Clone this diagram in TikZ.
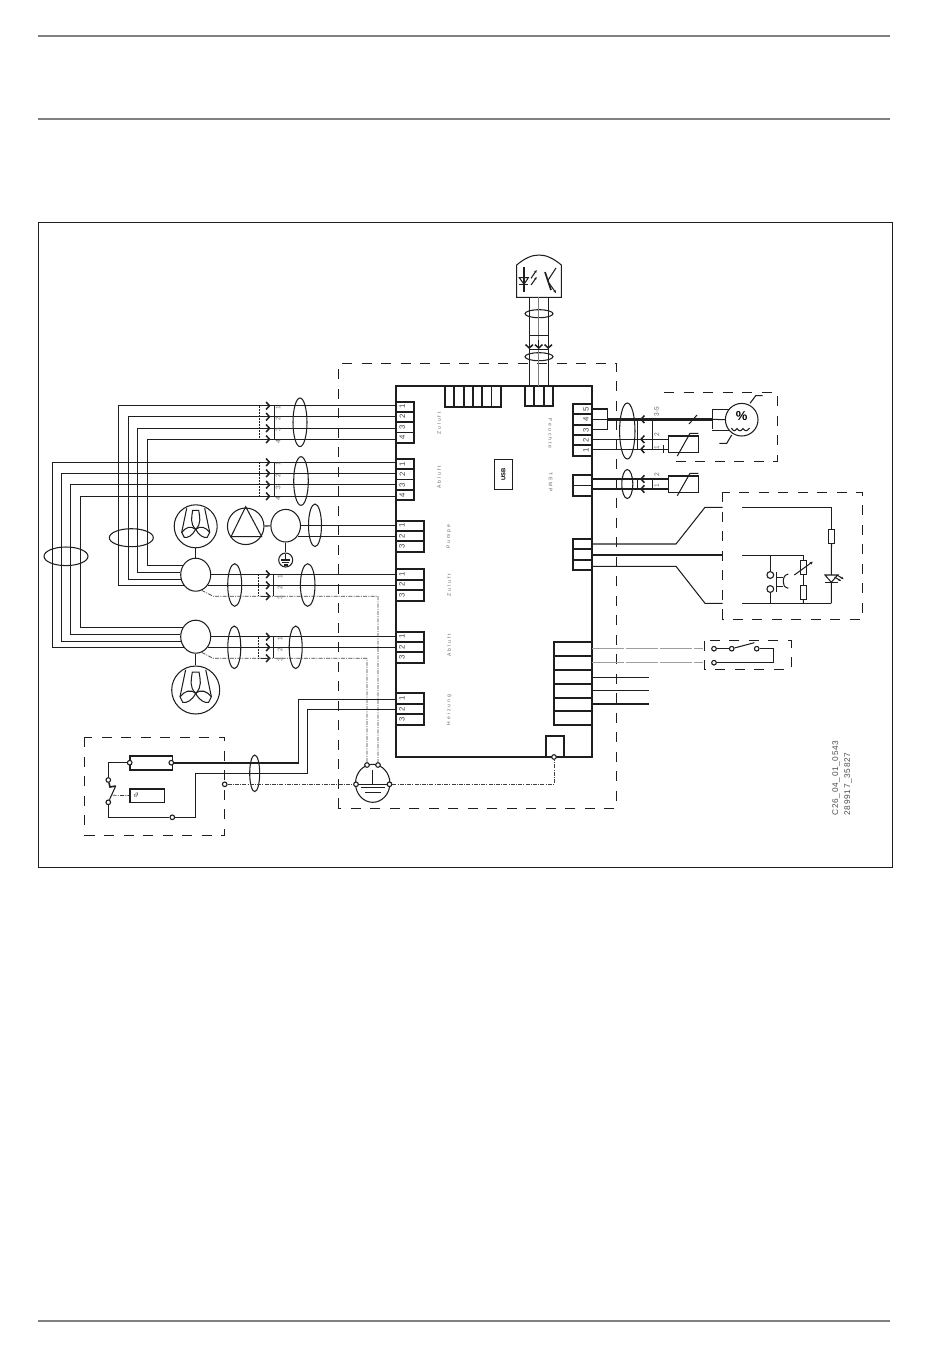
\documentclass[tikz,border=0pt]{standalone}
\usepackage{fontspec}
\setmainfont{Liberation Sans}
\newfontfamily\lblfont[LetterSpace=40]{Liberation Sans}
\newfontfamily\codefont[LetterSpace=8]{Liberation Sans}
\usetikzlibrary{arrows.meta,shapes.geometric}
\definecolor{ink}{HTML}{1E1E1E}
\tikzset{
  wire/.style={color=ink,line width=1.05pt},
  busline/.style={color=ink,line width=1.6pt},
  faint/.style={color=black!38,line width=1pt,dash pattern=on 32pt off 2pt},
  board/.style={color=ink,line width=2.3pt},
  conn/.style={color=ink,line width=1.9pt},
  dashbox/.style={color=ink,line width=0.9pt,dash pattern=on 10pt off 9.5pt},
  dotline/.style={color=black!75,line width=0.7pt,dash pattern=on 4pt off 1.2pt on 1pt off 1.2pt},
  rulegray/.style={color=black!50,line width=1.4pt},
  cable/.style={color=ink,line width=1.05pt},
  plugtip/.style={color=ink,line width=1.2pt,-{Straight Barb[length=3.4pt,width=7.5pt,line width=1.5pt]}},
  plugbar/.style={color=ink,line width=0.8pt},
  plugdash/.style={color=ink,line width=0.8pt,dash pattern=on 2pt off 1pt},
  motor/.style={draw=ink,line width=1.05pt,ellipse,minimum width=30pt,minimum height=33pt,inner sep=0pt},
  rotor/.style={draw=ink,line width=1.05pt,circle,inner sep=0pt},
  term/.style={draw=ink,fill=white,line width=1.1pt,circle,minimum size=4.6pt,inner sep=0pt},
  pinno/.style={color=black!75,font=\fontsize{7.8pt}{8pt}\selectfont,rotate=90,inner sep=0pt},
  pinrev/.style={color=black!75,font=\fontsize{7.8pt}{8pt}\selectfont,rotate=90,inner sep=0pt},
  wireno/.style={color=black!60,font=\fontsize{6.6pt}{7pt}\selectfont,rotate=90,inner sep=0pt},
  tag/.style={color=black!60,font=\lblfont\fontsize{5pt}{5pt}\selectfont,rotate=90,inner sep=0pt},
  tagrev/.style={color=black!60,font=\lblfont\fontsize{5pt}{5pt}\selectfont,rotate=-90,inner sep=0pt},
  sensorbox/.style={draw=ink,line width=1.05pt,minimum width=30pt,minimum height=16.7pt,inner sep=0pt},
  resist/.style={draw=ink,line width=0.9pt,fill=white,minimum width=6.4pt,minimum height=14pt,inner sep=0pt},
  code/.style={color=black!70,font=\codefont\fontsize{8.3pt}{9pt}\selectfont,rotate=90,anchor=west,inner sep=0pt},
}
\begin{document}
\begin{tikzpicture}[x=1pt,y=-1pt]
\useasboundingbox (0,0) rectangle (950,1353);
\draw[rulegray] (38,36) -- (890,36);
\draw[rulegray] (38,119) -- (890,119);
\draw[rulegray] (38,1321) -- (890,1321);
\draw[color=ink,line width=0.8pt] (38.5,222.5) rectangle (892,867);
\draw[dashbox] (338,808) -- (338,363.5) -- (616.7,363.5) -- (616.7,808) -- cycle;
\draw[board] (396,386) rectangle (592,757);
\begin{scope}[shift={(396,401.7)}] %Zuluft top
  \draw[conn] (0,0) rectangle (18,41);
  \draw[conn] (0,10.25) -- (18,10.25);
  \draw[conn] (0,20.5) -- (18,20.5);
  \draw[conn] (0,30.75) -- (18,30.75);
  \node[pinno] (zn1) at (6.3,5) {1};
  \node[pinno] (zn2) at (6.3,15) {2};
  \node[pinno] (zn3) at (6.3,26) {3};
  \node[pinno] (zn4) at (6.3,36) {4};
  \coordinate (z1) at (0,4);
  \coordinate (z2) at (0,15);
  \coordinate (z3) at (0,26.6);
  \coordinate (z4) at (0,37.6);
\end{scope}
\begin{scope}[shift={(396,459)}] %Abluft top
  \draw[conn] (0,0) rectangle (18,41);
  \draw[conn] (0,10.25) -- (18,10.25);
  \draw[conn] (0,20.5) -- (18,20.5);
  \draw[conn] (0,30.75) -- (18,30.75);
  \node[pinno] (an1) at (6.3,5) {1};
  \node[pinno] (an2) at (6.3,15) {2};
  \node[pinno] (an3) at (6.3,26) {3};
  \node[pinno] (an4) at (6.3,36) {4};
  \coordinate (a1) at (0,3.3);
  \coordinate (a2) at (0,14.3);
  \coordinate (a3) at (0,25.7);
  \coordinate (a4) at (0,37.3);
\end{scope}
\begin{scope}[shift={(396,520.7)}] %Pumpe
  \draw[conn] (0,0) rectangle (28,31);
  \draw[conn] (0,10.3) -- (28,10.3);
  \draw[conn] (0,20.6) -- (28,20.6);
  \node[pinno] (pn1) at (6,5) {1};
  \node[pinno] (pn2) at (6,15.5) {2};
  \node[pinno] (pn3) at (6,26) {3};
  \coordinate (p1) at (0,4.6);
  \coordinate (p2) at (0,15.6);
\end{scope}
\begin{scope}[shift={(396,569.3)}] %Zuluft
  \draw[conn] (0,0) rectangle (28,31.4);
  \draw[conn] (0,10.4) -- (28,10.4);
  \draw[conn] (0,20.9) -- (28,20.9);
  \node[pinno] (yn1) at (6,5) {1};
  \node[pinno] (yn2) at (6,15.5) {2};
  \node[pinno] (yn3) at (6,26) {3};
  \coordinate (y1) at (0,5);
  \coordinate (y2) at (0,16);
\end{scope}
\begin{scope}[shift={(396,631.7)}] %Abluft
  \draw[conn] (0,0) rectangle (28,31);
  \draw[conn] (0,10.3) -- (28,10.3);
  \draw[conn] (0,20.6) -- (28,20.6);
  \node[pinno] (bn1) at (6,5) {1};
  \node[pinno] (bn2) at (6,15.5) {2};
  \node[pinno] (bn3) at (6,26) {3};
  \coordinate (b1) at (0,5);
  \coordinate (b2) at (0,15.6);
\end{scope}
\begin{scope}[shift={(396,693)}] %Heizung
  \draw[conn] (0,0) rectangle (28,32);
  \draw[conn] (0,10.7) -- (28,10.7);
  \draw[conn] (0,21.3) -- (28,21.3);
  \node[pinno] (hn1) at (6,5) {1};
  \node[pinno] (hn2) at (6,16) {2};
  \node[pinno] (hn3) at (6,26.5) {3};
  \coordinate (h1) at (0,6.3);
  \coordinate (h2) at (0,16.3);
\end{scope}
\begin{scope}[shift={(445,386)}] %top left socket
  \draw[conn] (0,0) rectangle (55.7,21);
  \draw[conn] (9.3,0) -- (9.3,21);
  \draw[conn] (18.6,0) -- (18.6,21);
  \draw[conn] (27.9,0) -- (27.9,21);
  \draw[conn] (37.2,0) -- (37.2,21);
  \draw[conn] (46.5,0) -- (46.5,21);
\end{scope}
\begin{scope}[shift={(525,386)}] %top socket
  \draw[conn] (0,0) rectangle (28,20);
  \draw[conn] (9.3,0) -- (9.3,20);
  \draw[conn] (18.7,0) -- (18.7,20);
  \coordinate (s1) at (4.3,0);
  \coordinate (s2) at (13.7,0);
  \coordinate (s3) at (23.3,0);
\end{scope}
\begin{scope}[shift={(573.3,404)}] %Feuchte
  \draw[conn] (0,0) rectangle (18.7,51.7);
  \draw[conn] (0,10.3) -- (18.7,10.3);
  \draw[conn] (0,20.7) -- (18.7,20.7);
  \draw[conn] (0,31) -- (18.7,31);
  \draw[conn] (0,41.3) -- (18.7,41.3);
  \node[pinrev] (fn5) at (12.7,5.3) {5};
  \node[pinrev] (fn4) at (12.7,15.3) {4};
  \node[pinrev] (fn3) at (12.7,26) {3};
  \node[pinrev] (fn2) at (12.7,36.3) {2};
  \node[pinrev] (fn1) at (12.7,46) {1};
  \coordinate (f5) at (18.7,5);
  \coordinate (f4) at (18.7,15.3);
  \coordinate (f3) at (18.7,25.3);
  \coordinate (f2) at (18.7,35.3);
  \coordinate (f1) at (18.7,45.3);
\end{scope}
\begin{scope}[shift={(573.3,475)}] %TEMP
  \draw[conn] (0,0) rectangle (18.7,21);
  \draw[conn] (0,10.5) -- (18.7,10.5);
  \coordinate (t2) at (18.7,4);
  \coordinate (t1) at (18.7,14);
\end{scope}
\begin{scope}[shift={(573.3,538.7)}] %sensor socket
  \draw[conn] (0,0) rectangle (18.7,31.3);
  \draw[conn] (0,10.4) -- (18.7,10.4);
  \draw[conn] (0,20.9) -- (18.7,20.9);
  \coordinate (e1) at (18.7,5.3);
  \coordinate (e2) at (18.7,16.3);
  \coordinate (e3) at (18.7,27.6);
\end{scope}
\begin{scope}[shift={(554,641.7)}] %bottom socket
  \draw[conn] (0,0) rectangle (38,83.3);
  \draw[conn] (0,14) -- (38,14);
  \draw[conn] (0,28) -- (38,28);
  \draw[conn] (0,42) -- (38,42);
  \draw[conn] (0,56) -- (38,56);
  \draw[conn] (0,69) -- (38,69);
  \coordinate (k1) at (38,7);
  \coordinate (k2) at (38,21);
  \coordinate (k3) at (38,35.6);
  \coordinate (k4) at (38,48.6);
  \coordinate (k5) at (38,62.3);
\end{scope}
\draw[conn] (545.7,757) -- (545.7,736) -- (564.3,736) -- (564.3,757);
\node[draw=ink,line width=1.05pt,minimum width=30pt,minimum height=18pt,inner sep=0pt,rotate=90,
  font=\bfseries\fontsize{5.8pt}{6pt}\selectfont] (usb) at (503.3,474.3) {USB};
\node[tag] (lz1) at (439,423.5) {Zuluft};
\node[tag] (la1) at (439,477.5) {Abluft};
\node[tag] (lpu) at (449,536.5) {Pumpe};
\node[tag] (lz2) at (449,585) {Zuluft};
\node[tag] (la2) at (449,645.5) {Abluft};
\node[tag] (lhz) at (449,710) {Heizung};
\node[tagrev] (lfe) at (550.5,433.5) {Feuchte};
\node[tagrev] (lte) at (550.5,482) {TEMP};
% motors and fans
\node[motor] (mzu) at (195.7,574.7) {};
\node[motor] (mab) at (195.7,636.7) {};
\node[rotor,minimum size=43pt] (fzu) at (195.7,526.3) {};
\node[rotor,minimum size=48pt] (fab) at (195.7,690) {};
\node[rotor,minimum size=36.5pt] (pmp) at (245.7,526.3) {};
\node[motor,minimum width=29.6pt,minimum height=32.6pt] (mpu) at (285.7,525.7) {};
\node[rotor,minimum size=14pt] (gpu) at (285.7,560) {};
\draw[wire] (fzu) -- (mzu);
\draw[wire] (mab) -- (fab);
\draw[wire] (pmp) -- (mpu);
\draw[wire] (mpu) -- (gpu);
\begin{scope}[shift={(195.7,526.3)}]
  \draw[wire] (0,3) .. controls (-6,-3) and (-4,-9) .. (-3,-16) -- (3,-16) .. controls (4,-9) and (6,-3) .. (0,3);
  \draw[wire] (0,3) .. controls (-5,-1) and (-10,1) .. (-14,6) -- (-11.5,11) .. controls (-8,12) and (-3,9) .. (0,3);
  \draw[wire] (0,3) .. controls (5,-1) and (10,1) .. (14,6) -- (11.5,11) .. controls (8,12) and (3,9) .. (0,3);
  \draw[wire] (-14,6) -- (-9,-18);
  \draw[wire] (14,6) -- (9,-18);
\end{scope}
\begin{scope}[shift={(195.7,690)},scale=1.12]
  \draw[wire] (0,3) .. controls (-6,-3) and (-4,-9) .. (-3,-16) -- (3,-16) .. controls (4,-9) and (6,-3) .. (0,3);
  \draw[wire] (0,3) .. controls (-5,-1) and (-10,1) .. (-14,6) -- (-11.5,11) .. controls (-8,12) and (-3,9) .. (0,3);
  \draw[wire] (0,3) .. controls (5,-1) and (10,1) .. (14,6) -- (11.5,11) .. controls (8,12) and (3,9) .. (0,3);
  \draw[wire] (-14,6) -- (-9,-18);
  \draw[wire] (14,6) -- (9,-18);
\end{scope}
\draw[wire] (245.7,506.7) -- (231,536.7) -- (261.7,536.7) -- cycle;
\draw[wire] (285.7,553.5) -- (285.7,560);
\draw[wire] (281.2,560) -- (290.2,560);
\draw[wire] (282.4,562.5) -- (289,562.5);
\draw[wire] (283.8,565) -- (287.6,565);
% cables to the left
\coordinate (lz1c) at (118.7,0);
\coordinate (lz2c) at (128.3,0);
\coordinate (lz3c) at (137.7,0);
\coordinate (lz4c) at (147.3,0);
\coordinate (la1c) at (52.3,0);
\coordinate (la2c) at (61.7,0);
\coordinate (la3c) at (70.7,0);
\coordinate (la4c) at (80.3,0);
\draw[wire] (z1) -| (lz1c |- mzu.223) -- (mzu.223);
\draw[wire] (z2) -| (lz2c |- mzu.197) -- (mzu.197);
\draw[wire] (z3) -| (lz3c |- mzu.171) -- (mzu.171);
\draw[wire] (z4) -| (lz4c |- mzu.143) -- (mzu.143);
\draw[wire] (a1) -| (la1c |- mab.223) -- (mab.223);
\draw[wire] (a2) -| (la2c |- mab.197) -- (mab.197);
\draw[wire] (a3) -| (la3c |- mab.172) -- (mab.172);
\draw[wire] (a4) -| (la4c |- mab.143) -- (mab.143);
\draw[wire] (p1) -- (mpu.east |- p1);
\draw[wire] (p2) -- (mpu.-42 |- p2);
\draw[wire] (y1) -- (mzu.east |- y1);
\draw[wire] (y2) -- (mzu.-43 |- y2);
\draw[wire] (b1) -- (mab.east |- b1);
\draw[wire] (b2) -- (mab.-43 |- b2);
% plugs
\coordinate (pa) at (261,0);
\coordinate (pb) at (270.5,0);
\draw[plugtip] (pa |- z1) -- (pb |- z1);
\draw[plugtip] (pa |- z2) -- (pb |- z2);
\draw[plugtip] (pa |- z3) -- (pb |- z3);
\draw[plugtip] (pa |- z4) -- (pb |- z4);
\draw[plugtip] (pa |- a1) -- (pb |- a1);
\draw[plugtip] (pa |- a2) -- (pb |- a2);
\draw[plugtip] (pa |- a3) -- (pb |- a3);
\draw[plugtip] (pa |- a4) -- (pb |- a4);
\draw[plugtip] (pa |- y1) -- (pb |- y1);
\draw[plugtip] (pa |- y2) -- (pb |- y2);
\draw[plugtip] (261,596.3) -- (270.5,596.3);
\draw[plugtip] (pa |- b1) -- (pb |- b1);
\draw[plugtip] (pa |- b2) -- (pb |- b2);
\draw[plugtip] (261,658.3) -- (270.5,658.3);
\draw[plugdash] (259,405.7) -- (259,439.3);
\draw[plugbar] (274.3,405.7) -- (274.3,439.3);
\draw[plugdash] (259,462.3) -- (259,496.3);
\draw[plugbar] (274.3,462.3) -- (274.3,496.3);
\draw[plugdash] (258.3,574.3) -- (258.3,596.3);
\draw[plugbar] (273.3,574.3) -- (273.3,596.3);
\draw[plugdash] (258.3,636.7) -- (258.3,658.3);
\draw[plugbar] (273.3,636.7) -- (273.3,658.3);
\node[wireno] (w1) at (278,408) {1};
\node[wireno] (w2) at (278,419) {2};
\node[wireno] (w3) at (278,430) {3};
\node[wireno] (w4) at (278,442) {4};
\node[wireno] (w5) at (278,464) {1};
\node[wireno] (w6) at (278,476) {2};
\node[wireno] (w7) at (278,488) {3};
\node[wireno] (w8) at (278,499) {4};
\node[wireno] (w9) at (280,577) {1};
\node[wireno] (w10) at (280,588) {2};
\node[wireno] (w11) at (280,598) {3};
\node[wireno] (w12) at (280,639) {1};
\node[wireno] (w13) at (280,650) {2};
\node[wireno] (w14) at (280,660) {3};
% cable rings
\draw[cable] (66,556.3) ellipse [x radius=22,y radius=9.3];
\draw[cable] (131.3,537.7) ellipse [x radius=22,y radius=9];
\draw[cable] (300,422.3) ellipse [x radius=7,y radius=24.3];
\draw[cable] (301,481) ellipse [x radius=7.3,y radius=24.3];
\draw[cable] (315,525.3) ellipse [x radius=6.5,y radius=21.3];
\draw[cable] (234.7,585) ellipse [x radius=7,y radius=21.3];
\draw[cable] (307.7,585) ellipse [x radius=7.3,y radius=21.3];
\draw[cable] (234.3,647.3) ellipse [x radius=6.5,y radius=21.3];
\draw[cable] (295.7,647.3) ellipse [x radius=6.5,y radius=21.3];
\draw[cable] (254.7,773.3) ellipse [x radius=5,y radius=18.3];
\draw[cable] (627.3,431) ellipse [x radius=7.7,y radius=28];
\draw[cable] (627.3,484) ellipse [x radius=5.5,y radius=14.5];
\draw[cable] (539,313.7) ellipse [x radius=14,y radius=4];
\draw[cable] (539,356.7) ellipse [x radius=14,y radius=4];
% earth bar
\node[motor,minimum width=34.4pt,minimum height=38pt] (gnd) at (372.7,783.3) {};
\node[term] (ga) at (356,784.3) {};
\node[term] (gb) at (389.5,784.3) {};
\node[term] (gc) at (378,765) {};
\node[term] (gd) at (367,765) {};
\node[term] (te) at (224.7,784.3) {};
\node[term] (tb) at (554,757) {};
\draw[wire] (372.7,770) -- (372.7,784.7);
\draw[wire] (358,784.7) -- (387,784.7);
\draw[wire] (361,787.5) -- (385,787.5);
\draw[wire] (365,792.3) -- (381,792.3);
\coordinate (dz) at (213.3,596.3);
\coordinate (da) at (213,658.3);
\draw[dotline] (mzu.-69) -- (dz) -| (gc);
\draw[dotline] (mab.-69) -- (da) -| (gd);
\draw[dotline] (te) -- (ga);
\draw[dotline] (gb) -| (tb);
% heater box
\draw[dashbox] (84.7,737.3) rectangle (224.7,835);
\node[draw=ink,line width=1.6pt,minimum width=42.6pt,minimum height=14.3pt,inner sep=0pt] (hbox) at (151,762.9) {};
\node[draw=ink,line width=1.6pt,minimum width=34.6pt,minimum height=13.6pt,inner sep=0pt] (tbox) at (147,795.5) {};
\node[inner sep=0pt,font=\fontsize{7pt}{8pt}\selectfont] (tsym) at (136,795.5) {$\vartheta$};
\node[term] (hl) at (129.7,762.7) {};
\node[term] (hr) at (171.3,762.7) {};
\node[term] (tl) at (172.3,817.3) {};
\node[term] (ts1) at (108.3,780) {};
\node[term] (ts2) at (108.3,802.3) {};
\coordinate (hc1) at (298.3,762.7);
\coordinate (hc2) at (307.3,773.3);
\coordinate (hc3) at (195.3,773.3);
\draw[busline] (h1) -| (hc1) -- (hr);
\draw[wire] (h2) -| (hc2) -- (hc3) |- (tl);
\draw[wire] (tl) -| (ts2);
\draw[wire] (ts1) |- (hl);
\draw[busline] (ts1) -- (110,787) -- (115.7,786);
\draw[wire] (ts2) -- (115.7,786);
\draw[dotline] (112.7,795.3) -- (tbox.west);
% top sensor
\draw[wire] (516.7,297.3) -- (516.7,265) .. controls (525,258) and (532,255) .. (539,255)
  .. controls (546,255) and (553,258) .. (561.3,265) -- (561.3,297.3) -- cycle;
\coordinate (u1) at (529.3,297.3);
\coordinate (u2) at (538.7,297.3);
\coordinate (u3) at (548.3,297.3);
\draw[wire] (u1) -- (s1);
\draw[color=black!50,line width=1.5pt] (u2) -- (s2);
\draw[wire] (u3) -- (s3);
\draw[plugbar] (529.3,335.7) -- (548.3,335.7);
\draw[plugbar] (529.3,349.3) -- (548.3,349.3);
\draw[plugtip] (529.3,340) -- (529.3,349);
\draw[plugtip] (538.7,340) -- (538.7,349);
\draw[plugtip] (548.3,340) -- (548.3,349);
\draw[wire] (524,267) -- (524,292);
\draw[wire] (519.3,277.7) -- (528.3,277.7) -- (524,284.3) -- cycle;
\draw[wire] (519.3,284.3) -- (528.3,284.3);
\draw[wire,-{Stealth[length=3pt,width=2.6pt]}] (531,278.3) -- (536.7,270);
\draw[wire,-{Stealth[length=3pt,width=2.6pt]}] (531,285) -- (536.7,277);
\draw[busline] (545,272) -- (551,290);
\draw[wire] (547.5,281) -- (556,268);
\draw[wire,-{Stealth[length=3pt,width=2.6pt]}] (549,283) -- (556,293);
% humidity sensor
\draw[dashbox] (664,392.7) -- (777.3,392.7) -- (777.3,461) -- (668,461);
\draw[dashbox] (663.5,445) -- (663.5,453);
\node[rotor,minimum size=32.6pt] (hs) at (741.7,419.7) {};
\node[inner sep=0pt,font=\bfseries\fontsize{13pt}{14pt}\selectfont] (hpc) at (741.7,416.5) {\%};
\coordinate (bu1) at (607.3,419.3);
\coordinate (bu2) at (712.3,419.3);
\draw[wire] (f5) -| (bu1);
\draw[wire] (f3) -| (bu1);
\draw[wire] (f4) -- (bu1);
\draw[color=ink,line width=2.6pt] (bu1) -- (bu2);
\draw[wire] (689,424) -- (697,415);
\draw[wire] (bu2 |- f5) -- (bu2 |- f3);
\draw[wire] (hs.141) -- (bu2 |- hs.141) ;
\draw[wire] (hs.180) -- (bu2);
\draw[wire] (hs.219) -- (bu2 |- hs.219);
\draw[wire] (750,403.3) -- (755.7,395.7) -- (762.7,395.7);
\draw[wire] (731.7,435) -- (726.7,443.3) -- (719.3,443.3);
\draw[wire] (731.5,428) .. controls (733,431.5) and (735,431.5) .. (737,428.5)
  .. controls (739,431.5) and (741,431.5) .. (743,428.5)
  .. controls (745,431.5) and (747,431.5) .. (749.5,428);
% Feuchte and TEMP sensors
\node[sensorbox] (sf) at (683.3,444.35) {};
\node[sensorbox] (st) at (683.3,484.35) {};
\draw[wire] (f2) -- (sf.west |- f2);
\draw[wire] (f1) -- (sf.west |- f1);
\draw[wire] (t2) -- (st.west |- t2);
\draw[wire] (t1) -- (st.west |- t1);
\draw[wire] (677.3,456) -- (690,433.3) -- (698.3,433.3);
\draw[wire] (677.3,495.7) -- (690,473.3) -- (698.3,473.3);
\coordinate (qa) at (648.5,0);
\coordinate (qb) at (640,0);
\draw[plugtip] (qa |- f4) -- (qb |- f4);
\draw[plugtip] (qa |- f2) -- (qb |- f2);
\draw[plugtip] (qa |- f1) -- (qb |- f1);
\draw[plugtip] (qa |- t2) -- (qb |- t2);
\draw[plugtip] (qa |- t1) -- (qb |- t1);
\draw[plugbar] (637.3,419.3) -- (637.3,449.3);
\draw[plugbar] (652.3,419.3) -- (652.3,449.3);
\draw[plugbar] (637.3,479) -- (637.3,489);
\draw[plugbar] (652.3,479) -- (652.3,489);
\node[wireno] (w15) at (656.7,411.7) {3-5};
\node[wireno] (w16) at (656.7,435) {2};
\node[wireno] (w17) at (656.7,447.7) {1};
\node[wireno] (w18) at (656.7,475) {2};
\node[wireno] (w19) at (656.7,486) {1};
% sensor unit on the right
\draw[dashbox] (722.7,492.3) rectangle (862.7,619);
\coordinate (ea) at (676,0);
\coordinate (eb) at (705,507.3);
\coordinate (ec) at (705,603.3);
\coordinate (ed) at (722.7,507.3);
\coordinate (ee) at (722.7,603.3);
\coordinate (ef) at (722.7,555);
\draw[wire] (e1) -- (ea |- e1) -- (eb) -- (ed);
\draw[wire] (e2) -- (ef);
\draw[wire] (e3) -- (ea |- e3) -- (ec) -- (ee);
\coordinate (ga1) at (742.3,507.3);
\coordinate (ga2) at (742.3,555.3);
\coordinate (ga3) at (742.3,603.3);
\coordinate (ga4) at (831.3,603.3);
\coordinate (ga5) at (803.3,603.3);
\coordinate (ga6) at (770.3,603.3);
\node[resist] (ra) at (831.5,536.3) {};
\node[resist] (rb) at (803.5,567.7) {};
\node[resist] (rc) at (803.5,592.5) {};
\node[term,minimum size=6.8pt] (ca) at (770.3,575) {};
\node[term,minimum size=6.8pt] (cb) at (770.3,589) {};
\draw[wire] (ga1) -| (ra);
\draw[wire] (ra) -- (ga4);
\draw[wire] (ga3) -- (ga4);
\draw[wire] (ga2) -| (rb);
\draw[wire] (rb) -- (rc);
\draw[wire] (rc) -- (ga5);
\draw[wire] (ga2 -| ca) -- (ca);
\draw[wire] (cb) -- (ga6);
\draw[wire,-{Stealth[length=3pt,width=3pt]}] (794.3,575) -- (812.7,561.7);
\draw[wire,fill=white] (825,575) -- (837.7,575) -- (831.3,582.3) -- cycle;
\draw[wire] (825,582.3) -- (837.7,582.3);
\draw[wire,-{Stealth[length=2.5pt,width=2.4pt]}] (834.5,577) -- (841,581);
\draw[wire,-{Stealth[length=2.5pt,width=2.4pt]}] (837,575) -- (843.5,579);
\draw[wire] (776.7,571.7) -- (776.7,592.3);
\draw[wire] (776.7,577.7) -- (783.3,577.7);
\draw[wire] (776.7,586.7) -- (783.3,586.7);
\draw[wire] (788.3,574) .. controls (784,575) and (783.3,578) .. (783.3,582)
  .. controls (783.3,585) and (784,587) .. (788.3,588.3);
% door switch
\draw[dashbox] (704.3,640.7) rectangle (791,669);
\node[term] (sa) at (714,648.7) {};
\node[term] (sb) at (731.7,648.7) {};
\node[term] (sc) at (756.7,648.7) {};
\node[term] (sd) at (714,662.7) {};
\coordinate (se) at (773.3,648.7);
\coordinate (sf2) at (703,648.7);
\coordinate (sf3) at (703,662.7);
\draw[wire] (sa) -- (sb);
\draw[wire] (sb) -- (754.3,642.7);
\draw[wire] (sc) -- (se) |- (sd);
\draw[faint] (k1) -- (sf2);
\draw[faint] (k2) -- (sf3);
\coordinate (kc) at (649,0);
\draw[wire] (k3) -- (kc |- k3);
\draw[wire] (k4) -- (kc |- k4);
\draw[wire] (k5) -- (kc |- k5);
\node[code] (c1) at (836,815.5) {C26\_04\_01\_0543};
\node[code] (c2) at (848,815.5) {289917\_35827};
\end{tikzpicture}
\end{document}
